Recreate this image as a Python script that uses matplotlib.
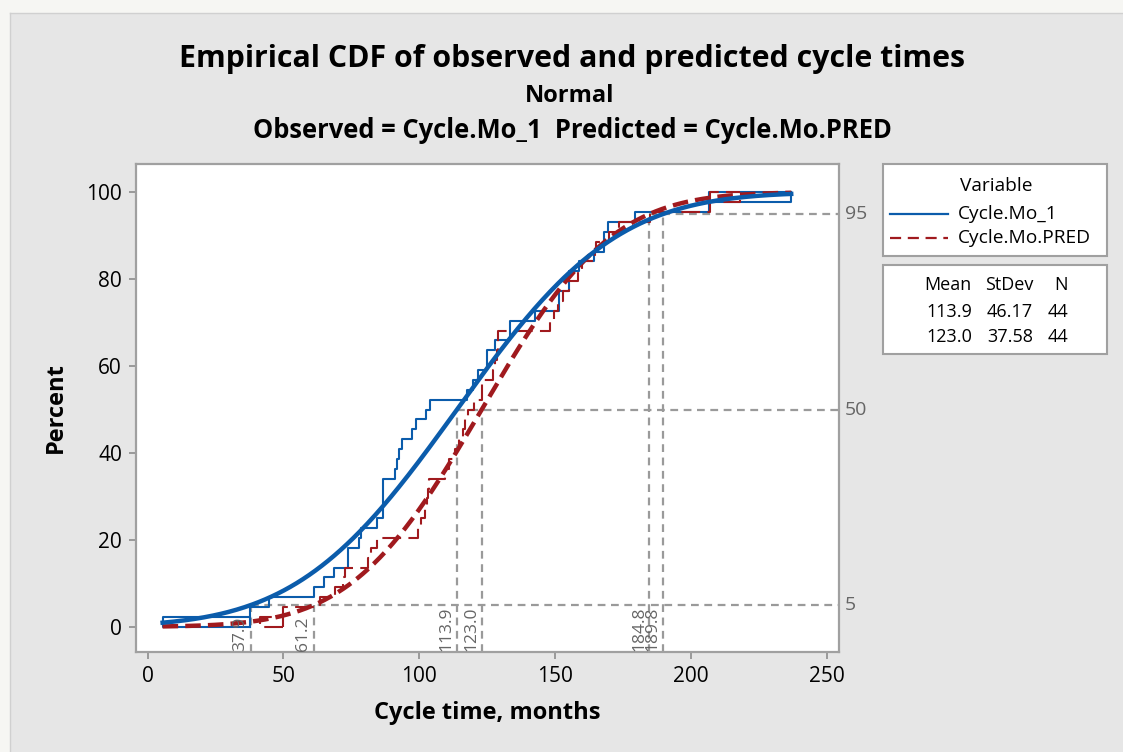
import math
import numpy as np
import matplotlib
matplotlib.use("Agg")
import matplotlib.pyplot as plt
from matplotlib.patches import Rectangle
from matplotlib.lines import Line2D
from matplotlib.transforms import blended_transform_factory

plt.rcParams['font.family'] = ['Open Sans', 'DejaVu Sans']

# ---------------- data ----------------
observed = [5.5, 37.5, 44.7, 61.3, 64.9, 68.6, 73.6, 73.6, 78.0, 78.7,
            84.5, 86.5, 86.5, 86.5, 86.5, 91.0, 91.7, 92.6, 93.5, 97.2,
            98.8, 102.5, 104.0, 117.7, 119.9, 121.8, 124.9, 124.9, 127.9, 133.5,
            133.5, 142.7, 151.4, 151.4, 155.0, 155.0, 158.7, 164.2, 167.9, 167.9,
            169.7, 179.6, 206.6, 237.0]
predicted = [41.2, 49.8, 63.4, 68.9, 72.0, 72.6, 81.2, 82.4, 84.3, 99.6,
             100.5, 102.0, 103.0, 103.3, 103.5, 109.5, 111.0, 113.0, 114.5, 116.0,
             117.0, 118.0, 120.0, 123.0, 123.2, 127.3, 128.0, 128.6, 129.0, 129.1,
             148.0, 149.5, 151.0, 153.0, 155.0, 158.6, 160.0, 164.8, 165.0, 170.0,
             173.5, 185.0, 207.0, 218.0]
series_names = ["Cycle.Mo_1", "Cycle.Mo.PRED"]
means = [113.9, 123.0]
stdevs = [46.17, 37.58]
counts = [44, 44]
ref_percents = [5, 50, 95]
obs_percentiles = [37.9, 113.9, 189.8]
pred_percentiles = [61.2, 123.0, 184.8]
x_ticks = [0, 50, 100, 150, 200, 250]
y_ticks = [0, 20, 40, 60, 80, 100]

BLUE = "#0b5cab"
RED = "#a01a1e"
GRAY = "#9a9a9a"
BG = "#e6e6e6"

W, H = 1123, 752
fig = plt.figure(figsize=(W / 100, H / 100), dpi=100, facecolor=BG)

def fx(px):
    return px / W

def fy(py):
    return 1 - py / H

# screenshot edge strips
fig.patches.append(Rectangle((0, 0), fx(10), 1, transform=fig.transFigure,
                             facecolor="#f6f6f3", edgecolor="none", zorder=0))
fig.patches.append(Rectangle((0, fy(13)), 1, 13 / H, transform=fig.transFigure,
                             facecolor="#f6f6f3", edgecolor="none", zorder=0))
fig.add_artist(Line2D([fx(10), fx(10)], [0, fy(13)], color="#d0d0d0", lw=1))
fig.add_artist(Line2D([fx(10), 1], [fy(13), fy(13)], color="#d0d0d0", lw=1))

ax = fig.add_axes([fx(136), fy(652), fx(839) - fx(136), fy(164) - fy(652)])
ax.set_facecolor("white")
ax.set_xlim(-4.3, 254.6)
ax.set_ylim(-5.8, 106.5)

def norm_cdf(x, m, s):
    return np.array([0.5 * (1 + math.erf((v - m) / (s * math.sqrt(2)))) for v in x]) * 100

def ecdf_path(vals):
    v = np.sort(np.asarray(vals, float))
    n = len(v)
    xs = [v[1], v[0], v[0]]
    ys = [0, 0, 100.0 / n]
    for i in range(1, n):
        xs += [v[i], v[i]]
        ys += [100.0 * i / n, 100.0 * (i + 1) / n]
    # closing segments at both ends (Minitab style)
    xs_top = [v[n - 2], v[n - 2], v[n - 1]]
    ys_top = [100.0 * (n - 1) / n, 100.0, 100.0]
    xs_bot = [v[1], v[1]]
    ys_bot = [0, 100.0 / n]
    return (xs, ys), (xs_top, ys_top), (xs_bot, ys_bot)

lo = min(min(observed), min(predicted))
hi = max(max(observed), max(predicted))
xx = np.linspace(lo, hi, 400)

# reference lines
xmax = ax.get_xlim()[1]
ybot = ax.get_ylim()[0]
for p, a, b in zip(ref_percents, obs_percentiles, pred_percentiles):
    ax.plot([min(a, b), xmax], [p, p], color=GRAY, lw=1.6, ls=(0, (3.5, 2.5)), zorder=1, clip_on=False)
    for v in (a, b):
        ax.plot([v, v], [ybot, p], color=GRAY, lw=1.6, ls=(0, (3.5, 2.5)), zorder=1)
        ax.text(v - 0.9, ybot + 0.3, f"{v:.1f}", rotation=90, ha="right", va="bottom",
                fontsize=12.5, color="#666666", zorder=6)

trans_r = blended_transform_factory(ax.transAxes, ax.transData)
for p in ref_percents:
    ax.text(1.008, p, f"{p}", transform=trans_r, ha="left", va="center",
            fontsize=14, color="#666666")

# ECDF steps
for vals, col, ls in ((observed, BLUE, "-"), (predicted, RED, (0, (9, 3.5)))):
    for (px_, py_) in ecdf_path(vals):
        ax.plot(px_, py_, color=col, lw=1.5, ls=ls, zorder=3)

# fitted normal curves
ax.plot(xx, norm_cdf(xx, means[1], stdevs[1]), color=RED, lw=3.2, ls=(0, (3.5, 1.6)), zorder=4)
ax.plot(xx, norm_cdf(xx, means[0], stdevs[0]), color=BLUE, lw=3.2, zorder=5)

ax.set_xticks(x_ticks)
ax.set_yticks(y_ticks)
ax.tick_params(direction="out", length=5, width=1.2, color="#8c8c8c", labelsize=15, pad=5)
for s in ax.spines.values():
    s.set_color("#a0a0a0")
    s.set_linewidth(1.6)

ax.set_xlabel("Cycle time, months", fontsize=17, fontweight="bold", labelpad=10)
ax.set_ylabel("Percent", fontsize=17, fontweight="bold", labelpad=13)

# titles
fig.text(fx(572), fy(59), "Empirical CDF of observed and predicted cycle times",
         ha="center", va="center", fontsize=21.8, fontweight="bold")
fig.text(fx(570), fy(96), "Normal", ha="center", va="center", fontsize=17, fontweight="bold")
fig.text(fx(572), fy(131), "Observed = Cycle.Mo_1  Predicted = Cycle.Mo.PRED",
         ha="center", va="center", fontsize=18.4, fontweight="bold")

# legend box 1
fig.patches.append(Rectangle((fx(883), fy(256)), fx(1107) - fx(883), fy(164) - fy(256),
                             transform=fig.transFigure, facecolor="white",
                             edgecolor="#a0a0a0", lw=1.5))
fig.text(fx(996), fy(186), "Variable", ha="center", va="center", fontsize=13.8)
for i, (name, col, ls) in enumerate(zip(series_names, (BLUE, RED), ("-", (0, (5, 3))))):
    yy = fy(214 + 24 * i)
    fig.add_artist(Line2D([fx(890), fx(948)], [yy, yy], color=col, lw=1.6, ls=ls))
    fig.text(fx(958), yy, name, ha="left", va="center", fontsize=13.8)

# legend box 2
fig.patches.append(Rectangle((fx(883), fy(354)), fx(1107) - fx(883), fy(265) - fy(354),
                             transform=fig.transFigure, facecolor="white",
                             edgecolor="#a0a0a0", lw=1.5))
cols_r = [972, 1033, 1068]
for h, cx in zip(["Mean", "StDev", "N"], cols_r):
    fig.text(fx(cx), fy(285), h, ha="right", va="center", fontsize=13)
for r, (m, s, n) in enumerate(zip(means, stdevs, counts)):
    yy = fy(312 + 25 * r)
    for txt, cx in zip([f"{m:.1f}", f"{s:.2f}", f"{n}"], cols_r):
        fig.text(fx(cx), yy, txt, ha="right", va="center", fontsize=13)

fig.savefig("out.png", dpi=100, facecolor=BG)
